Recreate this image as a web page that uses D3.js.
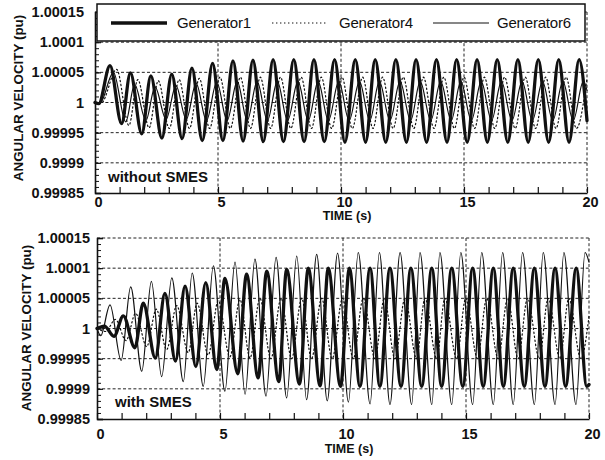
<!DOCTYPE html>
<html><head><meta charset="utf-8">
<script src="https://cdn.jsdelivr.net/npm/d3@7"></script>
<style>
html,body{margin:0;padding:0;background:#fff;}
svg text{font-family:"Liberation Sans",Arial,Helvetica,sans-serif;fill:#111;}
</style></head>
<body>
<svg id="chart" width="605" height="460"></svg>
<script>
// ---------- data ----------
const xTickValues = [0, 5, 10, 15, 20];
const xTickLabels = ["0", "5", "10", "15", "20"];
const yTickValues = [0.99985, 0.9999, 0.99995, 1, 1.00005, 1.0001, 1.00015];
const yTickLabels = ["0.99985", "0.9999", "0.99995", "1", "1.00005", "1.0001", "1.00015"];
const seriesNames = ["Generator1", "Generator4", "Generator6"];
const panelNotes = ["without SMES", "with SMES"];

// [time (s), angular velocity (pu)] at turning points, top panel (without SMES)
const topGen1 = [[0,1.0],[0.15,0.999998],[0.61,1.000061],[1.08,0.999965],[1.44,1.000049],[1.90,0.999948],[2.27,1.000044],[2.72,0.999941],[3.12,1.000047],[3.54,0.99994],[3.94,1.000057],[4.36,0.999937],[4.78,1.000065],[5.20,0.999937],[5.61,1.000069],[6.02,0.999936],[6.42,1.00007],[6.84,0.999935],[7.24,1.000071],[7.66,0.999935],[8.08,1.000071],[8.50,0.999935],[8.90,1.000071],[9.32,0.999935],[9.74,1.000071],[10.16,0.999934],[10.58,1.000071],[11.00,0.999934],[11.39,1.000071],[11.82,0.999934],[12.23,1.000071],[12.66,0.999934],[13.05,1.000071],[13.48,0.999934],[13.88,1.000071],[14.31,0.999934],[14.70,1.000071],[15.13,0.999934],[15.53,1.000071],[15.95,0.999934],[16.35,1.000071],[16.78,0.999934],[17.19,1.000071],[17.61,0.999934],[18.02,1.000071],[18.44,0.999934],[18.85,1.000071],[19.27,0.999934],[19.68,1.000071],[20,0.99997]];
const topGen4 = [[0,1.0],[0.25,0.999999],[0.88,1.000055],[1.38,0.999962],[1.74,1.000038],[2.20,0.999958],[2.57,1.000036],[3.02,0.999957],[3.42,1.000038],[3.84,0.999957],[4.24,1.00004],[4.66,0.999957],[5.08,1.000042],[5.50,0.999957],[5.91,1.000042],[6.32,0.999957],[6.72,1.000042],[7.14,0.999957],[7.54,1.000042],[7.96,0.999957],[8.38,1.000042],[8.80,0.999957],[9.20,1.000042],[9.62,0.999957],[10.04,1.000042],[10.46,0.999957],[10.88,1.000042],[11.30,0.999957],[11.69,1.000042],[12.12,0.999957],[12.53,1.000042],[12.96,0.999957],[13.35,1.000042],[13.78,0.999957],[14.18,1.000042],[14.61,0.999957],[15.00,1.000042],[15.43,0.999957],[15.83,1.000042],[16.25,0.999957],[16.65,1.000042],[17.08,0.999957],[17.49,1.000042],[17.91,0.999957],[18.32,1.000042],[18.74,0.999957],[19.15,1.000042],[19.57,0.999957],[20,1.00004]];
const topGen6 = [[0,1.0],[0.2,0.999999],[0.75,1.00005],[1.25,0.999968],[1.61,1.00003],[2.07,0.99997],[2.44,1.000026],[2.89,0.999972],[3.29,1.000028],[3.71,0.999972],[4.11,1.000032],[4.53,0.99997],[4.95,1.000034],[5.37,0.99997],[5.78,1.000035],[6.19,0.99997],[6.59,1.000035],[7.01,0.99997],[7.41,1.000035],[7.83,0.99997],[8.25,1.000035],[8.67,0.99997],[9.07,1.000035],[9.49,0.99997],[9.91,1.000035],[10.33,0.99997],[10.75,1.000035],[11.17,0.99997],[11.56,1.000035],[11.99,0.99997],[12.40,1.000035],[12.83,0.99997],[13.22,1.000035],[13.65,0.99997],[14.05,1.000035],[14.48,0.99997],[14.87,1.000035],[15.30,0.99997],[15.70,1.000035],[16.12,0.99997],[16.52,1.000035],[16.95,0.99997],[17.36,1.000035],[17.78,0.99997],[18.19,1.000035],[18.61,0.99997],[19.02,1.000035],[19.44,0.99997],[19.85,1.000035],[20,1.00002]];

// bottom panel (with SMES)
const botGen1 = [[0,1.0],[0.3,1.000004],[0.69,0.999987],[1.07,1.000021],[1.54,0.999968],[1.88,1.000042],[2.37,0.999951],[2.76,1.000058],[3.19,0.999946],[3.58,1.00007],[4.02,0.999937],[4.42,1.000076],[4.87,0.999932],[5.20,1.000083],[5.72,0.999925],[6.08,1.00009],[6.55,0.999918],[6.90,1.000095],[7.39,0.999912],[7.71,1.000098],[8.23,0.999908],[8.59,1.0001],[9.07,0.999905],[9.40,1.0001],[9.90,0.999904],[10.26,1.0001],[10.69,0.999904],[11.10,1.0001],[11.50,0.999904],[11.91,1.0001],[12.36,0.999904],[12.76,1.0001],[13.20,0.999904],[13.61,1.0001],[14.01,0.999904],[14.42,1.0001],[14.87,0.999904],[15.27,1.0001],[15.70,0.999904],[16.11,1.0001],[16.52,0.999904],[16.92,1.0001],[17.37,0.999904],[17.78,1.0001],[18.21,0.999904],[18.62,1.0001],[19.05,0.999904],[19.48,1.0001],[19.91,0.999904],[20,0.999907]];
const botGen4 = [[0,1.0],[0.35,0.999995],[0.75,1.000015],[1.18,0.99998],[1.57,1.000025],[2.02,0.99997],[2.41,1.000032],[2.83,0.999965],[3.24,1.000038],[3.71,0.99996],[4.07,1.000042],[4.52,0.999956],[4.93,1.000046],[5.40,0.999953],[5.81,1.000048],[6.22,0.999951],[6.62,1.00005],[7.07,0.99995],[7.48,1.00005],[7.91,0.99995],[8.32,1.00005],[8.72,0.99995],[9.13,1.00005],[9.56,0.99995],[9.98,1.00005],[10.42,0.99995],[10.82,1.00005],[11.30,0.99995],[11.68,1.00005],[12.11,0.99995],[12.52,1.00005],[12.99,0.99995],[13.33,1.00005],[13.81,0.99995],[14.14,1.00005],[14.62,0.99995],[14.99,1.00005],[15.47,0.99995],[15.84,1.00005],[16.31,0.99995],[16.69,1.00005],[17.12,0.99995],[17.50,1.00005],[17.98,0.99995],[18.34,1.00005],[18.82,0.99995],[19.18,1.00005],[19.67,0.99995],[20,1.00002]];
const botGen6 = [[0,1.0],[0.15,0.999988],[0.53,1.000039],[0.98,0.999947],[1.37,1.000069],[1.82,0.999929],[2.21,1.000078],[2.63,0.99992],[3.04,1.000084],[3.51,0.999912],[3.87,1.000092],[4.32,0.999904],[4.73,1.000104],[5.20,0.999896],[5.61,1.00011],[6.02,0.999891],[6.42,1.000115],[6.87,0.999888],[7.28,1.000118],[7.71,0.999885],[8.12,1.00012],[8.52,0.999882],[8.93,1.000123],[9.36,0.99988],[9.78,1.000125],[10.22,0.999878],[10.62,1.000126],[11.10,0.999875],[11.48,1.000126],[11.91,0.999874],[12.32,1.000126],[12.79,0.999874],[13.13,1.000126],[13.61,0.999874],[13.94,1.000126],[14.42,0.999874],[14.79,1.000126],[15.27,0.999874],[15.64,1.000126],[16.11,0.999874],[16.49,1.000126],[16.92,0.999874],[17.30,1.000126],[17.78,0.999874],[18.14,1.000126],[18.62,0.999874],[18.98,1.000126],[19.47,0.999874],[19.84,1.000126],[20,1.00011]];

// ---------- drawing ----------
const svg = d3.select("#chart");
const styles = {
  Generator1: {w: 3.3, dash: null},
  Generator4: {w: 1.2, dash: "1.4,2.6"},
  Generator6: {w: 1.2, dash: null}
};
const panels = [
  {x0: 95, x1: 587, yT: 12, yB: 193, data: {Generator1: topGen1, Generator4: topGen4, Generator6: topGen6},
   note: panelNotes[0], noteX: 108, noteY: 182, pad: 11, ylabX: 23, ylabY: 98, xpad: 4, timeY: 220, legend: true},
  {x0: 97, x1: 589, yT: 238, yB: 419, data: {Generator1: botGen1, Generator4: botGen4, Generator6: botGen6},
   note: panelNotes[1], noteX: 115, noteY: 407, pad: 7, ylabX: 31, ylabY: 328, xpad: 10, timeY: 453, legend: false}
];
const minorY = d3.range(0, 31).map(i => 0.99985 + i * 0.00001);
const minorX = d3.range(0, 21);

panels.forEach(p => {
  const x = d3.scaleLinear().domain([0, 20]).range([p.x0, p.x1]);
  const y = d3.scaleLinear().domain([0.99985, 1.00015]).range([p.yB, p.yT]);
  const g = svg.append("g");

  // grid lines (dotted)
  g.selectAll(".hg").data(yTickValues.slice(1)).enter().append("line")
    .attr("x1", p.x0).attr("x2", p.x1).attr("y1", d => y(d)).attr("y2", d => y(d))
    .attr("stroke", "#222").attr("stroke-width", 1).attr("stroke-dasharray", "3,2.2");
  g.selectAll(".vg").data(xTickValues.slice(1)).enter().append("line")
    .attr("x1", d => x(d)).attr("x2", d => x(d)).attr("y1", p.yT).attr("y2", p.yB)
    .attr("stroke", "#222").attr("stroke-width", 1).attr("stroke-dasharray", "3,2.2");

  // series
  const line = d3.line().x(d => x(d[0])).y(d => y(d[1])).curve(d3.curveMonotoneX);
  ["Generator4", "Generator6", "Generator1"].forEach(name => {
    const s = styles[name];
    g.append("path").datum(p.data[name]).attr("d", line)
      .attr("fill", "none").attr("stroke", "#111").attr("stroke-width", s.w)
      .attr("stroke-linejoin", "round").attr("stroke-linecap", "round")
      .attr("stroke-dasharray", s.dash);
  });

  // axes
  const yAxisMinor = d3.axisLeft(y).tickValues(minorY).tickSize(-4).tickFormat("");
  g.append("g").attr("transform", `translate(${p.x0},0)`).call(yAxisMinor)
    .call(a => a.select(".domain").remove())
    .selectAll("line").attr("stroke", "#111").attr("stroke-width", 1);
  const yAxis = d3.axisLeft(y).tickValues(yTickValues).tickSize(-6).tickPadding(p.pad)
    .tickFormat((d, i) => yTickLabels[i]);
  const ya = g.append("g").attr("transform", `translate(${p.x0},0)`).call(yAxis);
  ya.select(".domain").attr("stroke", "#111").attr("stroke-width", 1.6);
  ya.selectAll("line").attr("stroke", "#111").attr("stroke-width", 1.2);
  ya.selectAll("text").attr("font-size", 14.5).attr("font-weight", "bold")
    .style("font-family", "'Liberation Sans',Arial,sans-serif").attr("fill", "#111");

  const xAxisMinor = d3.axisBottom(x).tickValues(minorX).tickSize(-6).tickFormat("");
  g.append("g").attr("transform", `translate(0,${p.yB})`).call(xAxisMinor)
    .call(a => a.select(".domain").remove())
    .selectAll("line").attr("stroke", "#111").attr("stroke-width", 1.2);
  const xAxis = d3.axisBottom(x).tickValues(xTickValues).tickSize(0).tickPadding(p.xpad)
    .tickFormat((d, i) => xTickLabels[i]);
  const xa = g.append("g").attr("transform", `translate(0,${p.yB})`).call(xAxis);
  xa.select(".domain").attr("stroke", "#111").attr("stroke-width", 1.6);
  xa.selectAll("text").attr("font-size", 14.5).attr("font-weight", "bold")
    .attr("dx", 3).style("font-family", "'Liberation Sans',Arial,sans-serif").attr("fill", "#111");

  // axis titles
  g.append("text").attr("transform", `translate(${p.ylabX},${p.ylabY}) rotate(-90)`)
    .attr("text-anchor", "middle").attr("font-size", 13.4).attr("font-weight", "bold")
    .text("ANGULAR VELOCITY (pu)");
  g.append("text").attr("x", (p.x0 + p.x1) / 2 + 6).attr("y", p.timeY)
    .attr("text-anchor", "middle").attr("font-size", 12.5).attr("font-weight", "bold")
    .text("TIME (s)");

  // panel note
  g.append("text").attr("x", p.noteX).attr("y", p.noteY)
    .attr("font-size", 15).attr("font-weight", "bold").text(p.note);

  // legend
  if (p.legend) {
    const lg = svg.append("g");
    lg.append("rect").attr("x", 97).attr("y", 4).attr("width", 488).attr("height", 37)
      .attr("fill", "#fff").attr("stroke", "#111").attr("stroke-width", 1.5);
    const items = [
      {name: seriesNames[0], lx: 111, tx: 177},
      {name: seriesNames[1], lx: 272, tx: 339},
      {name: seriesNames[2], lx: 433, tx: 497}
    ];
    items.forEach(it => {
      const s = styles[it.name];
      lg.append("line").attr("x1", it.lx).attr("x2", it.lx + 56).attr("y1", 23).attr("y2", 23)
        .attr("stroke", "#111").attr("stroke-width", s.w).attr("stroke-dasharray", s.dash);
      lg.append("text").attr("x", it.tx).attr("y", 28).attr("font-size", 15)
        .attr("letter-spacing", -0.2).text(it.name);
    });
  }
});
</script>
</body></html>
